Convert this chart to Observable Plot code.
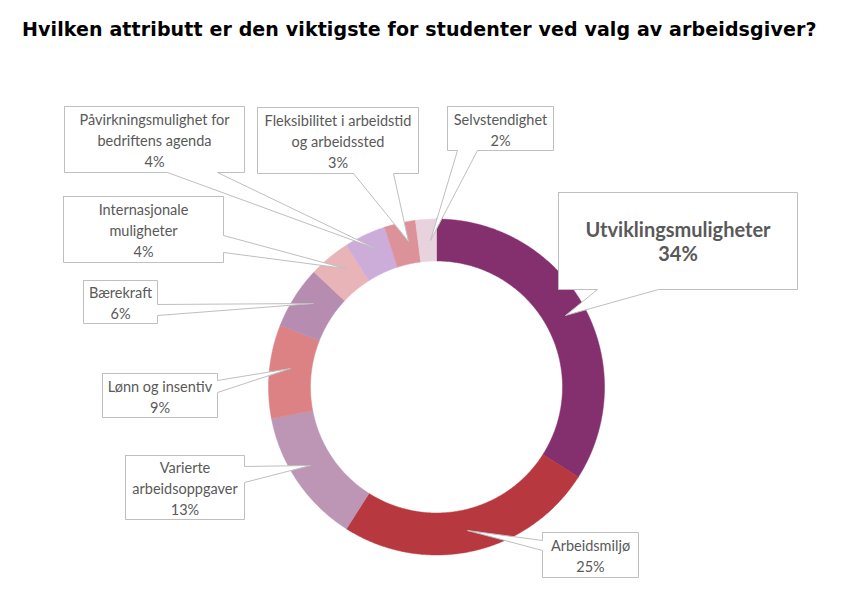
<!DOCTYPE html>
<html>
<head>
<meta charset="utf-8">
<script src="https://cdn.jsdelivr.net/npm/d3@7"></script>
<script src="https://cdn.jsdelivr.net/npm/@observablehq/plot@0.6"></script>
<style>
  html, body { margin: 0; padding: 0; background: #fff; }
  #wrap { width: 852px; height: 601px; overflow: hidden; }
  #title { height: 55px; box-sizing: border-box; padding-top: 18px; padding-left: 22px; text-align: left;
    font-family: "DejaVu Sans", Roboto, sans-serif; font-weight: 700; font-size: 19px; color: #000; white-space: nowrap; letter-spacing: 0.12px; }
</style>
</head>
<body>
<div id="wrap">
  <div id="title">Hvilken attributt er den viktigste for studenter ved valg av arbeidsgiver?</div>
  <div id="chart"></div>
</div>
<script>
// ---- data ----
const categories = [
  "Utviklingsmuligheter",
  "Arbeidsmiljø",
  "Varierte arbeidsoppgaver",
  "Lønn og insentiv",
  "Bærekraft",
  "Internasjonale muligheter",
  "Påvirkningsmulighet for bedriftens agenda",
  "Fleksibilitet i arbeidstid og arbeidssted",
  "Selvstendighet"
];
const values = [34, 25, 13, 9, 6, 4, 4, 3, 2];
const labelLines = [
  ["Utviklingsmuligheter", "34%"],
  ["Arbeidsmiljø", "25%"],
  ["Varierte", "arbeidsoppgaver", "13%"],
  ["Lønn og insentiv", "9%"],
  ["Bærekraft", "6%"],
  ["Internasjonale", "muligheter", "4%"],
  ["Påvirkningsmulighet for", "bedriftens agenda", "4%"],
  ["Fleksibilitet i arbeidstid", "og arbeidssted", "3%"],
  ["Selvstendighet", "2%"]
];

// ---- styles / layout ----
const colors = ["#84306F", "#B8383F", "#BD95B5", "#DC8285", "#B68CB0", "#E8B4B8", "#CCADD9", "#DC9299", "#E8D2DE"];
const center = {x: 436, y: 386.5};
const rOuter = 168, rInner = 126;
// callout boxes: [x1, y1, x2, y2], pointer side, base start/end along that side, tip point
const callouts = [
  {box: [558, 192, 797, 289], side: "bottom", base: [597, 658], tip: [565, 315], bold: true},
  {box: [542, 532, 638, 577], side: "left", base: [540, 550], tip: [467, 530]},
  {box: [125, 455, 244, 519], side: "right", base: [466, 482], tip: [310, 465]},
  {box: [102, 373, 217, 417], side: "right", base: [380, 392], tip: [290, 368]},
  {box: [83, 280, 157, 323], side: "right", base: [304, 315], tip: [313, 303]},
  {box: [63, 196, 223, 262], side: "right", base: [235, 252], tip: [345, 268]},
  {box: [64, 106, 244, 172], side: "bottom", base: [167, 217], tip: [375, 248]},
  {box: [257, 107, 418, 173], side: "bottom", base: [353, 393], tip: [408, 241]},
  {box: [447, 106, 553, 150], side: "bottom", base: [457, 477], tip: [430, 240]}
];

// ---- slice polygons from the data ----
const pie = d3.pie().sort(null).startAngle(0).endAngle(2 * Math.PI)(values);
const slicePts = [];
pie.forEach((p, i) => {
  const n = Math.max(4, Math.ceil((p.endAngle - p.startAngle) / (Math.PI / 360)));
  const pts = [];
  for (let k = 0; k <= n; k++) {
    const a = p.startAngle + (p.endAngle - p.startAngle) * k / n;
    pts.push([center.x + rOuter * Math.sin(a), center.y - rOuter * Math.cos(a)]);
  }
  for (let k = n; k >= 0; k--) {
    const a = p.startAngle + (p.endAngle - p.startAngle) * k / n;
    pts.push([center.x + rInner * Math.sin(a), center.y - rInner * Math.cos(a)]);
  }
  pts.push(pts[0]);
  pts.forEach(([x, y]) => slicePts.push({id: categories[i], x, y, color: colors[i]}));
});

// ---- callout polygons ----
const calloutPts = [];
callouts.forEach((c, i) => {
  const [x1, y1, x2, y2] = c.box, [b1, b2] = c.base, [tx, ty] = c.tip;
  let pts;
  if (c.side === "bottom") pts = [[x1, y1], [x2, y1], [x2, y2], [b2, y2], [tx, ty], [b1, y2], [x1, y2], [x1, y1]];
  else if (c.side === "right") pts = [[x1, y1], [x2, y1], [x2, b1], [tx, ty], [x2, b2], [x2, y2], [x1, y2], [x1, y1]];
  else if (c.side === "left") pts = [[x1, y1], [x2, y1], [x2, y2], [x1, y2], [x1, b2], [tx, ty], [x1, b1], [x1, y1]];
  else pts = [[x1, y1], [b1, y1], [tx, ty], [b2, y1], [x2, y1], [x2, y2], [x1, y2], [x1, y1]];
  pts.forEach(([x, y]) => calloutPts.push({id: categories[i], x, y}));
});

const labels = callouts.map((c, i) => ({
  x: (c.box[0] + c.box[2]) / 2,
  y: (c.box[1] + c.box[3]) / 2,
  text: labelLines[i].join("\n"),
  bold: !!c.bold
}));

const chart = Plot.plot({
  width: 852,
  height: 546,
  margin: 0,
  x: {domain: [0, 852], range: [0, 852], axis: null},
  y: {domain: [55, 601], range: [0, 546], axis: null},
  color: {type: "identity"},
  marks: [
    Plot.line(slicePts, {x: "x", y: "y", z: "id", fill: "color", stroke: "color", strokeWidth: 0.5, curve: "linear"}),
    Plot.line(calloutPts, {x: "x", y: "y", z: "id", fill: "white", stroke: "#BFBFBF", strokeWidth: 1, strokeLinejoin: "miter", curve: "linear"}),
    Plot.text(labels.filter(d => !d.bold), {x: "x", y: "y", text: "text", fill: "#595959", fontSize: 14.5, lineHeight: 1.45, fontFamily: "Lato, 'Open Sans', sans-serif", lineAnchor: "middle", textAnchor: "middle"}),
    Plot.text(labels.filter(d => d.bold), {x: "x", y: "y", text: "text", fill: "#595959", fontSize: 20, lineHeight: 1.2, fontWeight: "bold", fontFamily: "Lato, 'Open Sans', sans-serif", lineAnchor: "middle", textAnchor: "middle"})
  ]
});
document.getElementById("chart").appendChild(chart);
</script>
</body>
</html>
